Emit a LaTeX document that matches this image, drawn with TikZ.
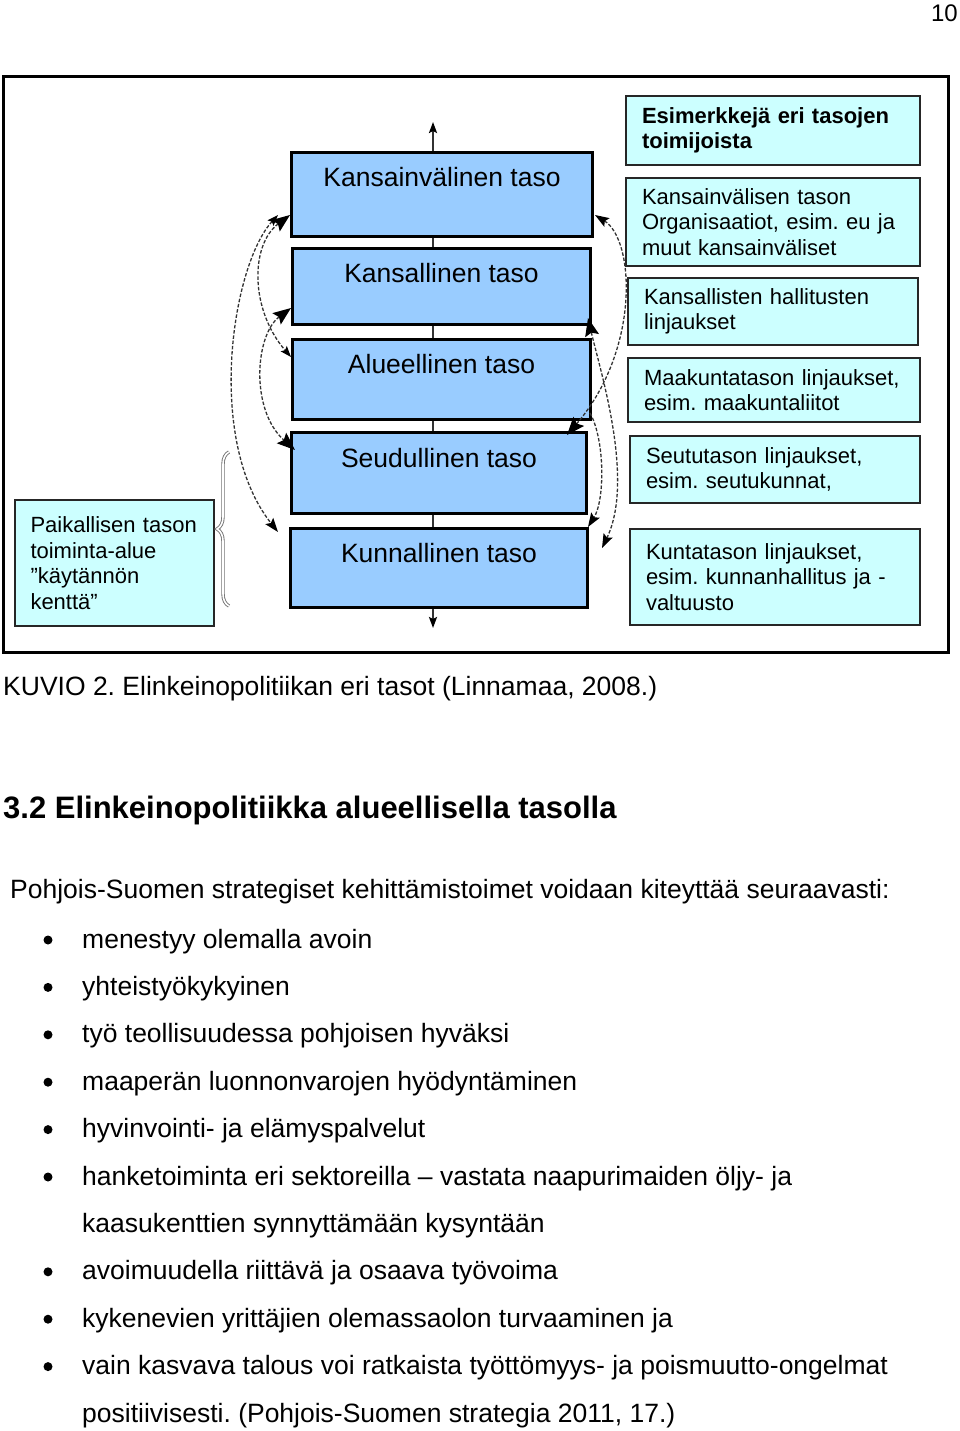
\documentclass[tikz,border=0pt]{standalone}
\usepackage{fontspec}
\setmainfont{Liberation Sans}
\usetikzlibrary{arrows.meta,decorations.pathreplacing}
\frenchspacing
\definecolor{levelblue}{HTML}{99CCFF}
\definecolor{actorcyan}{HTML}{CCFFFF}
\tikzstyle{levelbox}=[draw=black,line width=3pt,fill=levelblue,inner sep=0pt,anchor=north west,font=\fontsize{26.5}{30}\selectfont]
\tikzstyle{actorbox}=[draw=black!85,line width=1.8pt,fill=actorcyan,inner xsep=16pt,inner ysep=0pt,align=left,font=\fontsize{22}{25.5}\selectfont]
\tikzstyle{flow}=[dash pattern=on 3.5pt off 1.8pt,line width=1.3pt,draw=black!80]
\tikzstyle{bodytext}=[anchor=base west,inner sep=0pt,font=\fontsize{26.5}{30}\selectfont]
\tikzstyle{bracestyle}=[draw=black!55,double=white,double distance=1.6pt,line width=0.9pt,decorate,decoration={brace,amplitude=12pt}]
\tikzset{tipS/.tip={Stealth[length=11pt,width=8pt,inset=2pt,color=black]},
         tipM/.tip={Stealth[length=14pt,width=10pt,inset=2.5pt,color=black]},
         tipB/.tip={Stealth[length=18pt,width=14pt,inset=3pt,color=black]}}

\begin{document}
\begin{tikzpicture}[x=1pt,y=-1pt]
    \useasboundingbox (0,0) rectangle (960,1431);
    \node[anchor=base east,inner sep=0pt,font=\fontsize{24}{28}\selectfont] (pagenum) at (958,22) {10};
    \draw[line width=3pt] (3,77) rectangle (948,652);

    % vertical axis behind the levels
    \coordinate (axtop) at (433,122);
    \coordinate (axbot) at (433,628);
    \draw[line width=2pt,draw=black!80,tipS-tipS] (axbot) -- (axtop);

    \node[levelbox,minimum width=301pt,text height=34pt,text depth=50pt] (kv) at (290,151) {Kansainvälinen taso};
    \node[levelbox,minimum width=298pt,text height=34pt,text depth=42pt] (ks) at (291,247) {Kansallinen taso};
    \node[levelbox,minimum width=298pt,text height=34pt,text depth=46pt] (al) at (291,338) {Alueellinen taso};
    \node[levelbox,minimum width=295pt,text height=35pt,text depth=46pt] (se) at (290,431) {Seudullinen taso};
    \node[levelbox,minimum width=297pt,text height=34pt,text depth=45pt] (ku) at (289,527) {Kunnallinen taso};

    \node[actorbox,minimum height=69pt,text width=262pt] (r0) at (773,130.5) {\textbf{Esimerkkejä eri tasojen}\\\textbf{toimijoista}};
    \node[actorbox,minimum height=88pt,text width=262pt] (r1) at (773,222) {Kansainvälisen tason\\Organisaatiot, esim. eu ja\\muut kansainväliset};
    \node[actorbox,minimum height=67pt,text width=258pt] (r2) at (773,311.5) {Kansallisten hallitusten\\linjaukset};
    \node[actorbox,minimum height=64pt,text width=260pt] (r3) at (774,390) {Maakuntatason linjaukset,\\esim. maakuntaliitot};
    \node[actorbox,minimum height=67pt,text width=258pt] (r4) at (775,469.5) {Seututason linjaukset,\\esim. seutukunnat,};
    \node[actorbox,minimum height=96pt,text width=258pt] (r5) at (775,577) {Kuntatason linjaukset,\\esim. kunnanhallitus ja -\\valtuusto};

    \node[actorbox,inner xsep=15.5pt,minimum height=126pt,text width=168pt] (local) at (114.5,563) {Paikallisen tason\\toiminta-alue\\”käytännön\\kenttä”};
    \coordinate (brbot) at (229,606);
    \coordinate (brtop) at (229,452);
    \draw[bracestyle] (brbot) -- (brtop);

    % dashed links on the left
    \coordinate (a1) at (278,215);
    \coordinate (a2) at (278,532);
    \coordinate (b1) at (290,215);
    \coordinate (b2) at (291,357);
    \coordinate (c1) at (291,308);
    \coordinate (c2) at (295,450);
    \draw[flow,tipS-tipM] (a1) .. controls (232,265) and (205,440) .. (a2);
    \draw[flow,tipB-tipS] (b1) .. controls (250,245) and (250,310) .. (b2);
    \draw[flow,tipB-tipB] (c1) .. controls (255,335) and (250,410) .. (c2);
    % dashed links on the right
    \coordinate (d1) at (595,215);
    \coordinate (d2) at (567,435);
    \coordinate (e1) at (588,318);
    \coordinate (e2) at (602,548);
    \coordinate (f1) at (590,413);
    \coordinate (f2) at (588,527);
    \draw[flow,tipM-tipB] (d1) .. controls (635,240) and (640,350) .. (d2);
    \draw[flow,tipB-tipM] (e1) .. controls (600,370) and (635,480) .. (e2);
    \draw[flow,-tipM] (f1) .. controls (605,440) and (605,500) .. (f2);

    \node[bodytext] (caption) at (3,695) {KUVIO 2. Elinkeinopolitiikan eri tasot (Linnamaa, 2008.)};
    \node[anchor=base west,inner sep=0pt,font=\bfseries\fontsize{31}{36}\selectfont] (head) at (3,818) {3.2 Elinkeinopolitiikka alueellisella tasolla};
    \node[bodytext] (intro) at (10,898) {Pohjois-Suomen strategiset kehittämistoimet voidaan kiteyttää seuraavasti:};

    \foreach \n in {0,1,2,3,4,5,7,8,9}
        \fill (48,{940+47.4*\n}) circle (4.5pt);
    \foreach \n/\txt in {0/{menestyy olemalla avoin},1/{yhteistyökykyinen},2/{työ teollisuudessa pohjoisen hyväksi},
        3/{maaperän luonnonvarojen hyödyntäminen},4/{hyvinvointi- ja elämyspalvelut},
        5/{hanketoiminta eri sektoreilla – vastata naapurimaiden öljy- ja},6/{kaasukenttien synnyttämään kysyntään},
        7/{avoimuudella riittävä ja osaava työvoima},8/{kykenevien yrittäjien olemassaolon turvaaminen ja},
        9/{vain kasvava talous voi ratkaista työttömyys- ja poismuutto-ongelmat},10/{positiivisesti. (Pohjois-Suomen strategia 2011, 17.)}}
        \node[bodytext] (item\n) at (82,{948+47.4*\n}) {\txt};
\end{tikzpicture}
\end{document}
